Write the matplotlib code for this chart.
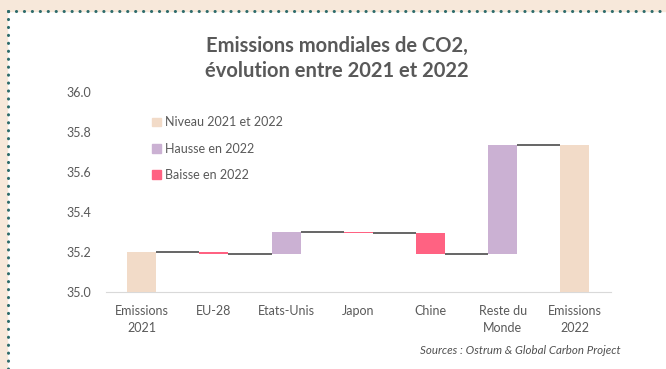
import matplotlib.pyplot as plt
import numpy as np
from matplotlib.patches import Rectangle, Patch
from matplotlib.lines import Line2D

# Data (Gt CO2)
categories = ['Emissions\n2021', 'EU-28', 'Etats-Unis', 'Japon', 'Chine',
              'Reste du\nMonde', 'Emissions\n2022']
start = 35.20
deltas = [-0.012, 0.112, -0.008, -0.102, 0.545]
end = 35.735
yticks = [35.0, 35.2, 35.4, 35.6, 35.8, 36.0]

c_level = '#f2dbc8'
c_up = '#cbb1d3'
c_down = '#ff6282'
c_text = '#595959'

plt.rcParams['font.family'] = ['Lato', 'DejaVu Sans']

fig = plt.figure(figsize=(6.66, 3.69), dpi=100)
fig.patch.set_facecolor('white')

# beige frame + dotted border
W, H = 666, 369
fig.patches.append(Rectangle((0, 1 - 11 / H), 1, 11 / H, transform=fig.transFigure,
                             color='#f7e8da', zorder=0))
fig.patches.append(Rectangle((0, 0), 7 / W, 1, transform=fig.transFigure,
                             color='#f7e8da', zorder=0))
dot = dict(color='#2d6b6b', linewidth=2.2, linestyle=(0, (0.05, 2.55)),
           solid_capstyle='round', dash_capstyle='round', transform=fig.transFigure)
fig.lines.append(Line2D([8 / W, 1], [1 - 11 / H, 1 - 11 / H], **dot))
fig.lines.append(Line2D([8 / W, 8 / W], [1 - 11 / H, 0], **dot))

ax = fig.add_axes([105.6 / W, 1 - 291.7 / H, (611 - 105.6) / W, (291.7 - 92.3) / H])

x = np.arange(len(categories))
w = 0.4
levels = [start]
for d in deltas:
    levels.append(levels[-1] + d)

ax.bar(x[0], start - 35.0, w, bottom=35.0, color=c_level)
for i, d in enumerate(deltas):
    lo = min(levels[i], levels[i + 1])
    ax.bar(x[i + 1], abs(d), w, bottom=lo, color=c_up if d > 0 else c_down)
ax.bar(x[-1], end - 35.0, w, bottom=35.0, color=c_level)

conn = levels + [end]
for i in range(len(categories) - 1):
    ax.hlines(conn[i], x[i] + w / 2, x[i + 1] - w / 2, color=c_text, linewidth=1.3)

ax.set_xlim(-0.5, len(categories) - 0.5)
ax.set_ylim(35.0, 36.0)
ax.set_yticks(yticks)
ax.set_yticklabels([f'{v:.1f}' for v in yticks])
ax.set_xticks(x)
ax.set_xticklabels(categories, linespacing=1.55)
ax.tick_params(axis='both', length=0, labelsize=9, labelcolor=c_text)
ax.tick_params(axis='y', pad=10)
ax.tick_params(axis='x', pad=9.5)
for s in ['top', 'right', 'left']:
    ax.spines[s].set_visible(False)
ax.spines['bottom'].set_color('#d9d9d9')
ax.spines['bottom'].set_zorder(0)

handles = [Patch(color=c_level), Patch(color=c_up), Patch(color=c_down)]
labels = ['Niveau 2021 et 2022', 'Hausse en 2022', 'Baisse en 2022']
ax.legend(handles, labels, loc='upper left', bbox_to_anchor=(0.092, 0.879),
          frameon=False, fontsize=9, labelcolor=c_text, handlelength=0.7,
          handleheight=0.7, handletextpad=0.35, labelspacing=1.15,
          borderaxespad=0, borderpad=0)

fig.text(337 / W, 1 - 58.5 / H, 'Emissions mondiales de CO2,\névolution entre 2021 et 2022',
         ha='center', va='center', fontsize=14.5, fontweight='bold', color=c_text,
         linespacing=1.35)
fig.text(621 / W, 1 - 351 / H, 'Sources : Ostrum & Global Carbon Project',
         ha='right', va='center', fontsize=8.3, style='italic', color='#505050')

plt.savefig('out.png', dpi=100)
